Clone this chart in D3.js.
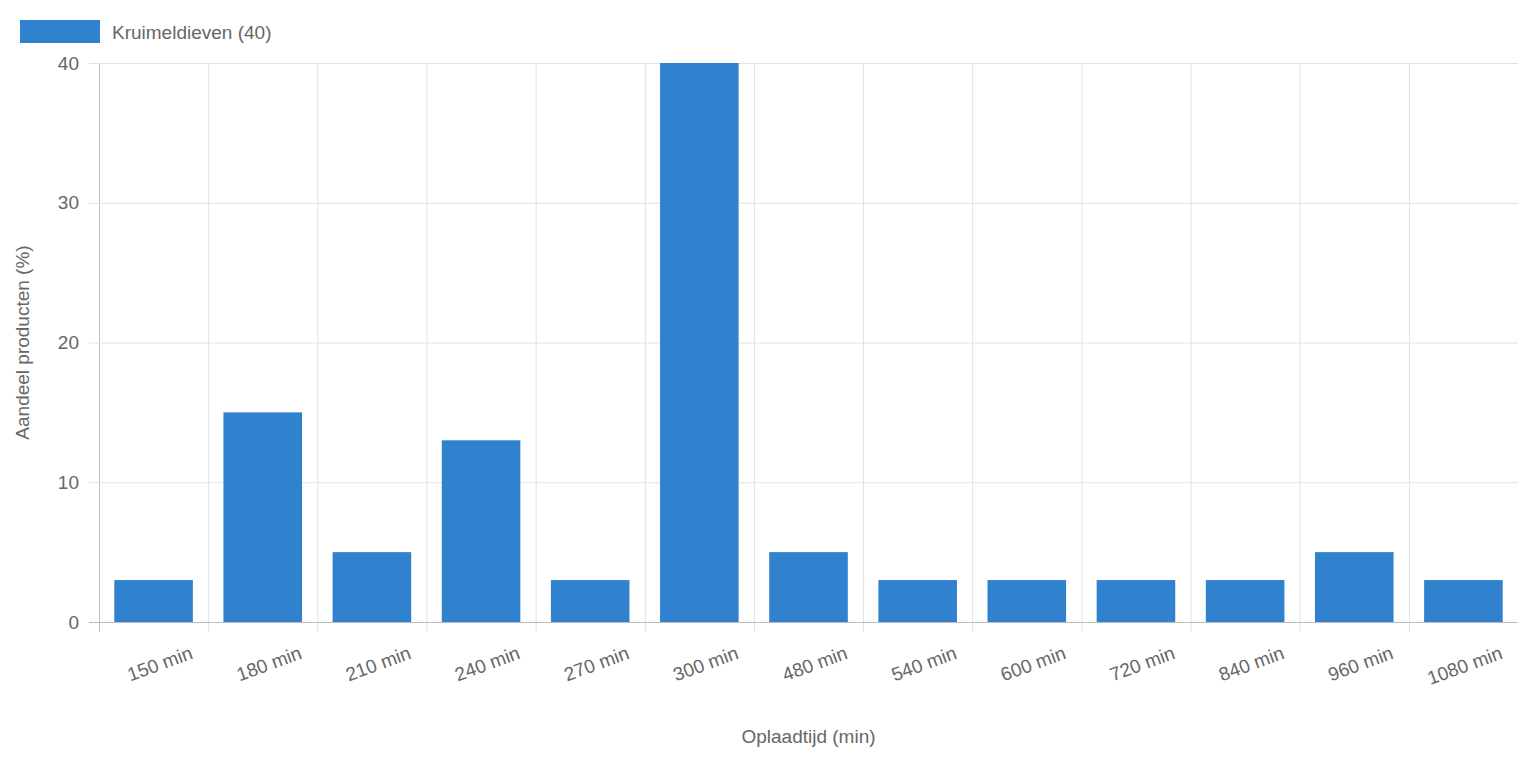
<!DOCTYPE html>
<html>
<head>
<meta charset="utf-8">
<script src="https://cdn.jsdelivr.net/npm/d3@7"></script>
<style>
body { margin: 0; background: #fff; }
text { font-family: "Helvetica Neue", "Liberation Sans", Arial, sans-serif; fill: #666; }
</style>
</head>
<body>
<svg width="1518" height="758"></svg>
<script>
const categories = ["150 min", "180 min", "210 min", "240 min", "270 min", "300 min", "480 min",
  "540 min", "600 min", "720 min", "840 min", "960 min", "1080 min"];
const values = [3, 15, 5, 13, 3, 40, 5, 3, 3, 3, 3, 5, 3];
const yTicks = [0, 10, 20, 30, 40];
const seriesName = "Kruimeldieven (40)";

let svg = d3.select("svg");
let mLeft = 99, mRight = 1518, mTop = 63, mBottom = 622;
let color = "#3182ce";

let x = d3.scaleBand().domain(categories).range([mLeft, mRight]).paddingInner(0.28).paddingOuter(0.14);
let xEdge = d3.scaleLinear().domain([0, categories.length]).range([mLeft, mRight]);
let y = d3.scaleLinear().domain([0, 40]).range([mBottom, mTop]);

// grid
svg.append("g").selectAll("line").data(d3.range(categories.length + 1)).join("line")
  .attr("x1", d => xEdge(d) + 0.5).attr("x2", d => xEdge(d) + 0.5)
  .attr("y1", mTop).attr("y2", mBottom + 10)
  .attr("stroke", d => d === 0 ? "#bbb" : "#e2e2e2");
svg.append("g").selectAll("line").data(yTicks).join("line")
  .attr("x1", mLeft - 10).attr("x2", mRight)
  .attr("y1", d => y(d) + 0.5).attr("y2", d => y(d) + 0.5)
  .attr("stroke", d => d === 0 ? "#bbb" : "#e2e2e2");

// bars
svg.append("g").selectAll("rect").data(values).join("rect")
  .attr("x", (d, i) => x(categories[i]))
  .attr("width", x.bandwidth())
  .attr("y", d => y(d))
  .attr("height", d => y(0) - y(d))
  .attr("fill", color);

// y tick labels
svg.append("g").selectAll("text").data(yTicks).join("text")
  .attr("x", mLeft - 20).attr("y", d => y(d)).attr("dy", "0.35em")
  .attr("text-anchor", "end").attr("font-size", 19).text(d => d);

// x tick labels (rotated)
svg.append("g").selectAll("text").data(categories).join("text")
  .attr("transform", d => `translate(${x(d) + x.bandwidth() / 2 + 38},${mBottom + 30}) rotate(-20)`)
  .attr("text-anchor", "end").attr("font-size", 19).attr("dy", "0.35em").text(d => d);

// axis titles
svg.append("text").attr("x", (mLeft + mRight) / 2).attr("y", 743)
  .attr("text-anchor", "middle").attr("font-size", 19).text("Oplaadtijd (min)");
svg.append("text").attr("transform", `translate(29,${(mTop + mBottom) / 2}) rotate(-90)`)
  .attr("text-anchor", "middle").attr("font-size", 19).text("Aandeel producten (%)");

// legend
svg.append("rect").attr("x", 20).attr("y", 20).attr("width", 80).attr("height", 23).attr("fill", color);
svg.append("text").attr("x", 112).attr("y", 32).attr("dy", "0.35em").attr("font-size", 19).text(seriesName);
</script>
</body>
</html>
